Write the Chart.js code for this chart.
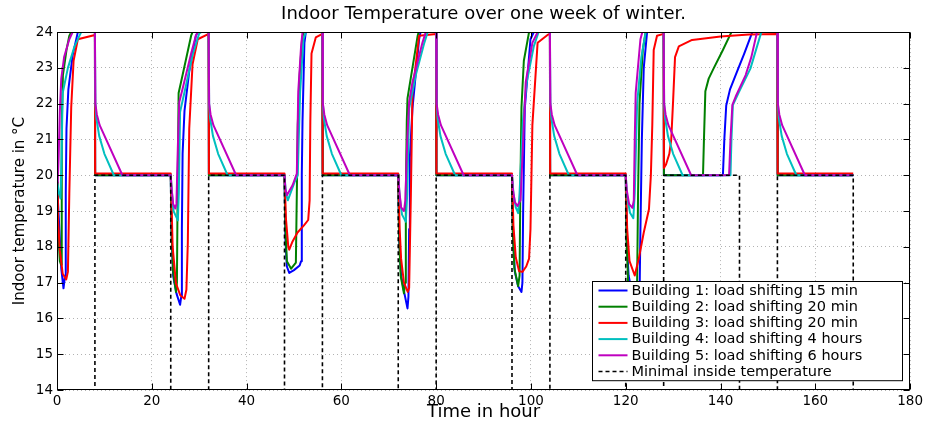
<!DOCTYPE html>
<html>
<head>
<meta charset="utf-8">
<title>Indoor Temperature over one week of winter</title>
<script src="https://cdn.jsdelivr.net/npm/chart.js@4.4.1/dist/chart.umd.min.js"></script>
<style>
  html, body { margin: 0; padding: 0; background: #fff; }
</style>
</head>
<body>
<canvas id="indoor-temp-chart" width="926" height="423"></canvas>
<script>
// [hour, degC]
var building1 = [
  [0, 19.8], [0.5, 18.5], [0.9, 17.4], [1.37, 16.84], [1.7, 17.2], [1.85, 19.5], [2.0, 21.3], [2.4, 22.4], [3.3, 23.35], [4.4, 24], [8, 24], [8.05, 20],
  [24, 20], [24.15, 18.5], [24.5, 17.2], [25.2, 16.7], [25.97, 16.38], [26.2, 16.6], [26.35, 18.5], [26.5, 20.6], [26.9, 21.8], [27.9, 22.9], [29.3, 23.9], [29.7, 24], [32, 24], [32.05, 20],
  [48, 20], [48.2, 18.2], [48.5, 17.45], [49.0, 17.27], [50.0, 17.35], [51.2, 17.48], [51.5, 17.6], [51.65, 20.0], [51.8, 21.5], [52.2, 23.7], [52.5, 24], [56, 24], [56.05, 20],
  [72, 20], [72.2, 18.2], [72.6, 17.2], [73.3, 16.7], [73.95, 16.28], [74.15, 16.6], [74.3, 18.5], [74.45, 20.5], [75.0, 21.87], [76.4, 23.8], [76.7, 24], [80, 24], [80.05, 20],
  [96, 20], [96.2, 18.3], [96.6, 17.3], [97.3, 16.9], [98.0, 16.74], [98.2, 17.0], [98.35, 19.0], [98.7, 21.87], [99.9, 23.8], [100.6, 24], [104, 24], [104.05, 20],
  [120, 20], [120.2, 18.2], [120.6, 17.2], [121.5, 16.6], [122.6, 16.2], [122.9, 16.5], [123.1, 18.5], [123.4, 21.0], [123.8, 23.0], [124.5, 24], [128, 24], [128.05, 20],
  [140.5, 20], [140.8, 21.0], [141.2, 21.95], [142.0, 22.4], [143.5, 22.9], [145.0, 23.4], [146.7, 24], [152, 24], [152.05, 20], [168, 20]
];
var building2 = [
  [0, 19.3], [0.3, 18.3], [0.6, 17.6], [0.85, 17.5], [0.95, 19.0], [1.05, 21.4], [1.25, 22.8], [2.0, 23.5], [2.6, 23.9], [3.0, 24], [8, 24], [8.05, 20],
  [24, 20], [24.15, 18.5], [24.5, 17.3], [25.1, 16.74], [25.3, 17.0], [25.45, 19.5], [25.66, 22.3], [26.5, 22.8], [28.3, 23.9], [28.6, 24], [32, 24], [32.05, 20],
  [48, 20], [48.2, 18.5], [48.5, 17.6], [49.4, 17.39], [50.4, 17.56], [50.6, 19.5], [50.8, 21.4], [51.2, 22.8], [51.7, 23.8], [52.0, 24], [56, 24], [56.05, 20],
  [72, 20], [72.15, 18.5], [72.5, 17.2], [73.2, 16.7], [73.45, 17.0], [73.6, 19.5], [73.8, 21.5], [73.95, 22.15], [76.1, 23.9], [76.3, 24], [80, 24], [80.05, 20],
  [96, 20], [96.15, 18.5], [96.5, 17.4], [97.3, 16.9], [97.6, 17.2], [97.75, 19.5], [98.0, 21.9], [98.5, 23.2], [99.6, 24], [104, 24], [104.05, 20],
  [120, 20], [120.15, 18.3], [120.5, 17.0], [121.5, 16.5], [122.2, 16.4], [122.4, 17.0], [122.6, 19.5], [122.9, 22.0], [123.6, 23.5], [124.2, 24], [128, 24], [128.05, 20],
  [136.3, 20], [136.5, 21.0], [136.8, 22.35], [137.5, 22.7], [138.6, 23.0], [140.5, 23.5], [142.3, 24], [152, 24], [152.05, 20], [168, 20]
];
var building3 = [
  [0, 19.8], [0.2, 18.8], [0.6, 17.9], [1.2, 17.25], [1.94, 17.09], [2.3, 17.3], [2.6, 19.5], [3.0, 21.9], [3.5, 23.2], [4.4, 23.8], [8, 23.92], [8.05, 20.05],
  [24, 20.05], [24.4, 18.0], [25.1, 16.98], [26.0, 16.65], [26.9, 16.55], [27.3, 16.8], [27.6, 18.1], [27.9, 21.3], [28.6, 23.1], [29.7, 23.8], [32, 23.95], [32.05, 20.05],
  [48, 20.05], [48.3, 18.8], [48.8, 18.0], [49.0, 17.92], [49.7, 18.15], [50.75, 18.4], [52.1, 18.6], [53.0, 18.75], [53.3, 19.3], [53.45, 21.5], [53.7, 23.4], [54.6, 23.85], [56, 23.95], [56.05, 20.05],
  [72, 20.05], [72.3, 18.5], [72.6, 17.67], [73.2, 17.0], [74.0, 16.74], [74.3, 16.85], [74.67, 19.5], [75.0, 22.3], [76.4, 23.9], [80, 23.95], [80.05, 20.05],
  [96, 20.05], [96.3, 18.6], [96.8, 17.7], [97.5, 17.32], [98.2, 17.3], [99.0, 17.45], [99.6, 17.67], [99.9, 18.5], [100.3, 21.4], [101.4, 23.7], [103.5, 23.92], [104, 23.95], [104.05, 20.05],
  [120, 20.05], [120.3, 18.5], [120.8, 17.6], [121.9, 17.2], [122.8, 17.7], [123.8, 18.4], [124.9, 19.05], [125.3, 20.0], [125.6, 21.4], [125.9, 23.5], [126.6, 23.9], [128, 23.95],
  [128.05, 20.2], [128.5, 20.3], [129.2, 20.6], [129.6, 21.0], [130.0, 22.1], [130.4, 23.3], [131.2, 23.6], [134, 23.78], [140, 23.88], [146, 23.93], [152, 23.95], [152.05, 20.05], [168, 20.05]
];
var building4 = [
  [0, 19.9], [0.4, 19.5], [0.75, 19.35], [0.95, 20.5], [1.2, 22.3], [2.3, 23.0], [3.7, 23.6], [5.1, 24], [8, 24], [8.1, 22.0], [8.3, 21.6], [8.9, 21.1], [10, 20.6], [12, 20],
  [24, 20], [24.2, 19.6], [24.6, 19.0], [25.5, 18.74], [25.7, 19.5], [25.97, 21.77], [27.2, 22.5], [28.6, 23.36], [30.0, 23.96], [30.4, 24], [32, 24], [32.1, 22.0], [32.3, 21.6], [32.9, 21.1], [34, 20.6], [36, 20],
  [48, 20], [48.3, 19.5], [48.7, 19.3], [50.1, 19.8], [50.8, 20.0], [51.0, 21.0], [51.3, 22.33], [52.0, 23.8], [52.5, 24], [56, 24], [56.1, 22.0], [56.3, 21.6], [56.9, 21.1], [58, 20.6], [60, 20],
  [72, 20], [72.3, 19.4], [72.8, 18.9], [73.6, 18.7], [73.9, 19.5], [74.3, 21.87], [75.7, 22.8], [77.5, 23.7], [78.2, 24], [80, 24], [80.1, 22.0], [80.3, 21.6], [80.9, 21.1], [82, 20.6], [84, 20],
  [96, 20], [96.3, 19.5], [96.8, 19.1], [97.3, 18.94], [97.6, 19.5], [98.3, 21.5], [99.1, 22.6], [100.6, 23.6], [101.6, 24], [104, 24], [104.1, 22.0], [104.3, 21.6], [104.9, 21.1], [106, 20.6], [108, 20],
  [120, 20], [120.3, 19.4], [120.9, 18.95], [121.6, 18.8], [121.9, 19.5], [122.4, 22.0], [123.3, 23.3], [124.2, 24], [128, 24], [128.1, 22.0], [128.3, 21.6], [128.9, 21.1], [130, 20.6], [132, 20],
  [142.1, 20], [142.3, 21.0], [142.6, 21.96], [143.9, 22.33], [146.3, 22.98], [148.6, 24], [152, 24], [152.1, 22.0], [152.3, 21.6], [152.9, 21.1], [154, 20.6], [156, 20], [168, 20]
];
var building5 = [
  [0, 21.0], [0.1, 20.0], [0.2, 19.8], [0.35, 20.5], [0.6, 21.8], [0.9, 22.7], [1.5, 23.3], [2.6, 23.8], [3.3, 24], [8, 24], [8.1, 22.0], [8.4, 21.7], [9.0, 21.4], [13.8, 20],
  [24, 20], [24.2, 19.6], [24.5, 19.2], [24.97, 19.07], [25.2, 19.2], [25.5, 20.8], [25.8, 22.05], [26.5, 22.42], [28.3, 23.4], [29.3, 23.9], [29.7, 24], [32, 24], [32.1, 22.0], [32.4, 21.7], [33.0, 21.4], [37.8, 20],
  [48, 20], [48.2, 19.6], [48.5, 19.44], [49.7, 19.72], [50.6, 20.05], [50.9, 22.33], [51.5, 23.6], [51.8, 24], [56, 24], [56.1, 22.0], [56.4, 21.7], [57, 21.4], [61.8, 20],
  [72, 20], [72.2, 19.6], [72.6, 19.1], [73.2, 19.0], [73.5, 19.3], [73.9, 21.0], [74.3, 22.05], [75.0, 22.6], [77.1, 23.7], [77.8, 24], [80, 24], [80.1, 22.0], [80.4, 21.7], [81, 21.4], [85.8, 20],
  [96, 20], [96.2, 19.6], [96.6, 19.25], [97.15, 19.14], [97.8, 19.3], [98.2, 20.5], [98.9, 22.6], [100.3, 23.7], [101.4, 24], [104, 24], [104.1, 22.0], [104.4, 21.7], [105, 21.4], [109.8, 20],
  [120, 20], [120.2, 19.6], [120.7, 19.2], [121.4, 19.09], [121.7, 19.3], [121.9, 21.0], [122.1, 22.3], [123.1, 23.8], [123.5, 24], [128, 24], [128.1, 22.0], [128.4, 21.7], [129, 21.4], [133.8, 20],
  [141.8, 20], [142.1, 21.0], [142.5, 21.97], [143.2, 22.2], [145.3, 22.8], [146.5, 23.3], [147.7, 24], [152, 24], [152.1, 22.0], [152.4, 21.7], [153, 21.4], [157.8, 20], [168, 20]
];
var minimalTemp = [
  [0, 14], [8, 14], [8, 20], [24, 20], [24, 14], [32, 14], [32, 20], [48, 20], [48, 14], [56, 14], [56, 20],
  [72, 20], [72, 14], [80, 14], [80, 20], [96, 20], [96, 14], [104, 14], [104, 20], [120, 20], [120, 14],
  [128, 14], [128, 20], [144, 20], [144, 14], [152, 14], [152, 20], [168, 20], [168, 14]
];

var seriesLabels = [
  'Building 1: load shifting 15 min',
  'Building 2: load shifting 20 min',
  'Building 3: load shifting 20 min',
  'Building 4: load shifting 4 hours',
  'Building 5: load shifting 6 hours',
  'Minimal inside temperature'
];
var seriesColors = ['#0000ff', '#008000', '#ff0000', '#00bfbf', '#bf00bf', '#000000'];
var hourTicks = [0, 20, 40, 60, 80, 100, 120, 140, 160, 180];
var tempTicks = [14, 15, 16, 17, 18, 19, 20, 21, 22, 23, 24];

var FONT = 'DejaVu Sans';

function toPoints(pairs) {
  return pairs.map(function (p) { return {x: p[0], y: p[1]}; });
}

var allSeries = [building1, building2, building3, building4, building5, minimalTemp];
// matlab draws later lines on top: lower order = on top in chart.js
var drawOrder = [5, 4, 3, 2, 1, 0];

var datasets = allSeries.map(function (s, i) {
  var isMin = i === allSeries.length - 1;
  return {
    label: seriesLabels[i],
    data: toPoints(s),
    borderColor: seriesColors[i],
    backgroundColor: seriesColors[i],
    borderWidth: isMin ? 1.6 : 2,
    borderDash: isMin ? [4, 3] : [],
    pointRadius: 0,
    tension: 0,
    fill: false,
    borderJoinStyle: 'round',
    order: drawOrder[i]
  };
});

// box, inward ticks and the boxed legend the way matlab draws them
var matlabAxes = {
  id: 'matlabAxes',
  afterDatasetsDraw: function (chart) {
    var ctx = chart.ctx, a = chart.chartArea;
    var xs = chart.scales.x, ys = chart.scales.y;
    var l = Math.round(a.left) + 0.5, r = Math.round(a.right) - 0.5;
    var t = Math.round(a.top) + 0.5, b = Math.round(a.bottom) - 0.5;
    var len = 6;
    ctx.save();
    ctx.strokeStyle = '#000';
    ctx.lineWidth = 1;
    ctx.setLineDash([]);
    ctx.strokeRect(l, t, r - l, b - t);
    ctx.beginPath();
    hourTicks.forEach(function (v) {
      var px = Math.round(xs.getPixelForValue(v)) + 0.5;
      ctx.moveTo(px, b); ctx.lineTo(px, b - len);
      ctx.moveTo(px, t); ctx.lineTo(px, t + len);
    });
    tempTicks.forEach(function (v) {
      var py = Math.round(ys.getPixelForValue(v)) + 0.5;
      ctx.moveTo(l, py); ctx.lineTo(l + len, py);
      ctx.moveTo(r, py); ctx.lineTo(r - len, py);
    });
    ctx.stroke();
    ctx.restore();
  },
  afterDraw: function (chart) {
    var ctx = chart.ctx, a = chart.chartArea;
    var w = 310, rowH = 16.2;
    var ds = chart.data.datasets;
    var h = ds.length * rowH + 2;
    var bx = Math.round(a.right - 8 - w) + 0.5;
    var by = Math.round(a.bottom - 10 - h) + 0.5;
    ctx.save();
    ctx.fillStyle = '#fff';
    ctx.fillRect(bx, by, w, h);
    ctx.strokeStyle = '#000';
    ctx.lineWidth = 1;
    ctx.strokeRect(bx, by, w, h);
    ctx.font = '14.5px "' + FONT + '"';
    ctx.textBaseline = 'middle';
    ctx.textAlign = 'left';
    ds.forEach(function (d, i) {
      var y = by + 9 + i * rowH;
      ctx.beginPath();
      ctx.strokeStyle = d.borderColor;
      ctx.lineWidth = d.borderWidth;
      ctx.setLineDash(d.borderDash);
      ctx.moveTo(bx + 6, y);
      ctx.lineTo(bx + 35, y);
      ctx.stroke();
      ctx.setLineDash([]);
      ctx.fillStyle = '#000';
      ctx.fillText(d.label, bx + 39, y + 0.5);
    });
    ctx.restore();
  }
};

var tempCanvas = document.getElementById('indoor-temp-chart').getContext('2d');
var tempChart = new Chart(tempCanvas, {
  type: 'line',
  data: { datasets: datasets },
  plugins: [matlabAxes],
  options: {
    responsive: false,
    animation: false,
    layout: { padding: { left: 0, right: 14, top: 0, bottom: 0 } },
    plugins: {
      legend: { display: false },
      tooltip: { enabled: false },
      title: {
        display: true,
        text: 'Indoor Temperature over one week of winter.',
        color: '#000',
        fullSize: false,
        font: { family: FONT, size: 18, weight: 'normal' },
        padding: { top: 4, bottom: 6.5 }
      }
    },
    scales: {
      x: {
        type: 'linear',
        min: 0,
        max: 180,
        afterBuildTicks: function (scale) {
          scale.ticks = hourTicks.map(function (v) { return {value: v}; });
        },
        afterFit: function (scale) { scale.height = 33; },
        ticks: {
          color: '#000',
          padding: 3,
          maxRotation: 0,
          autoSkip: false,
          font: { family: FONT, size: 13.5 }
        },
        grid: { color: 'rgba(0,0,0,0.3)', lineWidth: 1, drawTicks: false },
        border: { display: false, dash: [1, 3] },
        title: {
          display: true,
          text: 'Time in hour',
          color: '#000',
          font: { family: FONT, size: 18 },
          padding: { top: 0, bottom: 0 }
        }
      },
      y: {
        type: 'linear',
        min: 14,
        max: 24,
        afterBuildTicks: function (scale) {
          scale.ticks = tempTicks.map(function (v) { return {value: v}; });
        },
        afterFit: function (scale) { scale.width = 57; },
        ticks: {
          color: '#000',
          padding: 4,
          font: { family: FONT, size: 13.5 }
        },
        grid: { color: 'rgba(0,0,0,0.3)', lineWidth: 1, drawTicks: false },
        border: { display: false, dash: [1, 3] },
        title: {
          display: true,
          text: 'Indoor temperature in \u00b0C',
          color: '#000',
          font: { family: FONT, size: 15 },
          padding: { top: 11, bottom: 0 }
        }
      }
    }
  }
});
</script>
</body>
</html>
